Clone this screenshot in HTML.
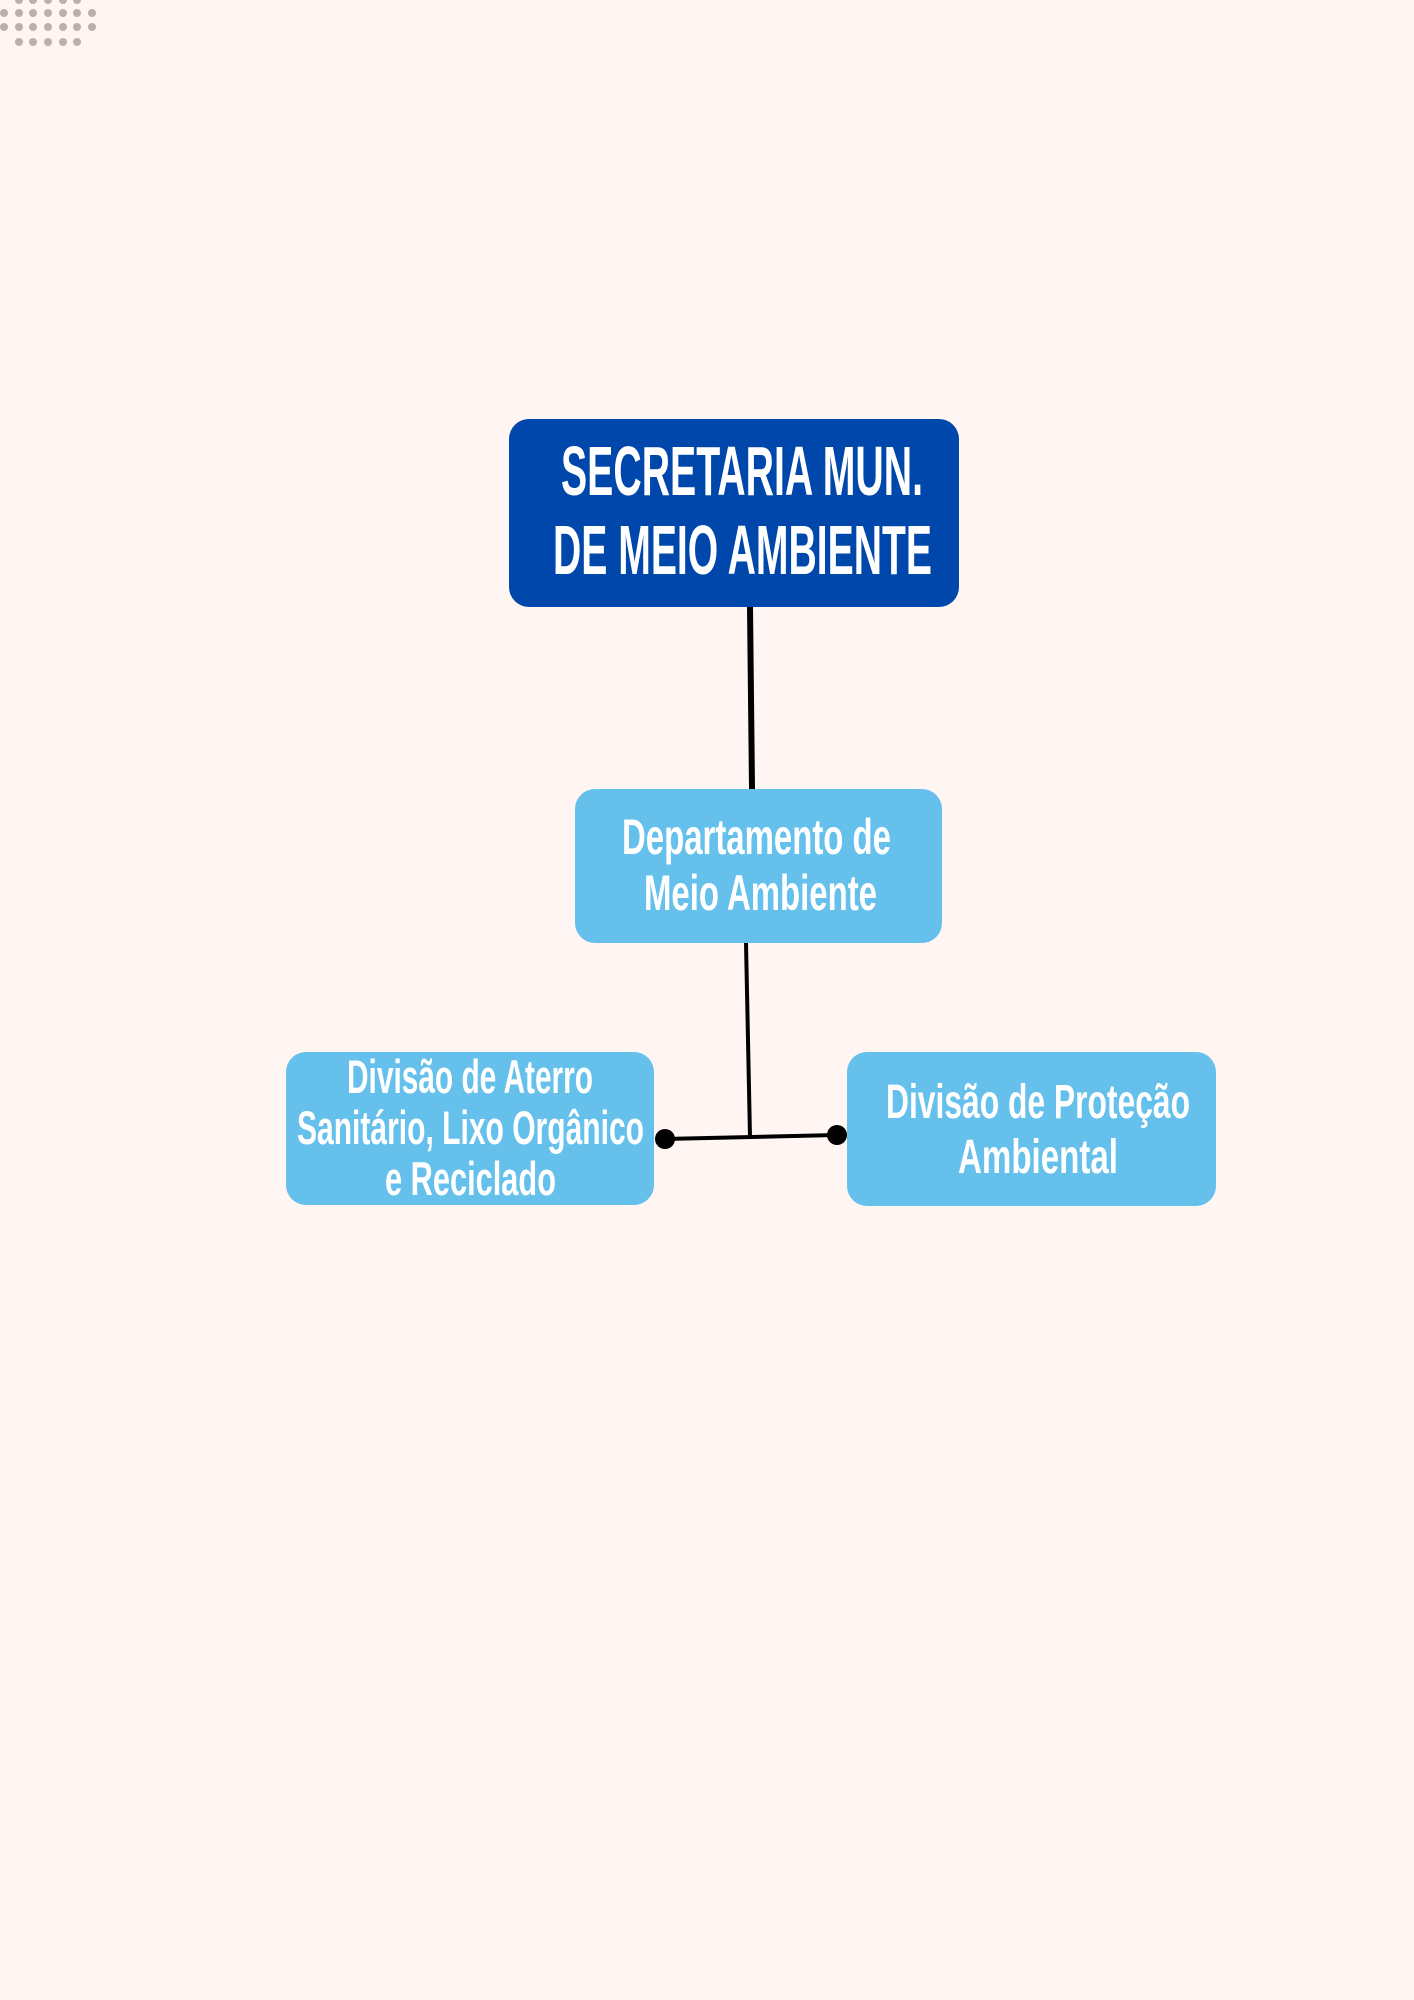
<!DOCTYPE html>
<html><head><meta charset="utf-8"><style>
html,body{margin:0;padding:0;background:#fff5f3;}
svg{display:block}
text{font-family:"Liberation Sans Narrow","Liberation Sans",sans-serif;font-weight:bold;fill:#fff;}
</style></head><body>
<svg width="1414" height="2000" viewBox="0 0 1414 2000">
<rect width="1414" height="2000" fill="#fff5f3"/>
<g fill="#bcb0ae">
<circle cx="19" cy="0" r="4"/><circle cx="33" cy="0" r="4"/><circle cx="48" cy="0" r="4"/><circle cx="63" cy="0" r="4"/><circle cx="77" cy="0" r="4"/>
<circle cx="4" cy="13" r="4"/><circle cx="19" cy="13" r="4"/><circle cx="33" cy="13" r="4"/><circle cx="48" cy="13" r="4"/><circle cx="63" cy="13" r="4"/><circle cx="77" cy="13" r="4"/><circle cx="92" cy="13" r="4"/>
<circle cx="4" cy="27" r="4"/><circle cx="19" cy="27" r="4"/><circle cx="33" cy="27" r="4"/><circle cx="48" cy="27" r="4"/><circle cx="63" cy="27" r="4"/><circle cx="77" cy="27" r="4"/><circle cx="92" cy="27" r="4"/>
<circle cx="19" cy="42" r="4"/><circle cx="33" cy="42" r="4"/><circle cx="48" cy="42" r="4"/><circle cx="63" cy="42" r="4"/><circle cx="77" cy="42" r="4"/>
</g>
<g stroke="#000" stroke-linecap="round" fill="none">
<line x1="750" y1="607" x2="752" y2="789" stroke-width="6"/>
<line x1="746" y1="943" x2="750" y2="1137" stroke-width="4"/>
<line x1="664" y1="1139" x2="836" y2="1135" stroke-width="4"/>
</g>
<circle cx="665" cy="1139" r="10" fill="#000"/>
<circle cx="837" cy="1135" r="10" fill="#000"/>
<rect x="509" y="419" width="450" height="188" rx="20" fill="#0047ab"/>
<rect x="575" y="789" width="367" height="154" rx="20" fill="#66c0ec"/>
<rect x="286" y="1052" width="368" height="153" rx="20" fill="#66c0ec"/>
<rect x="847" y="1052" width="369" height="154" rx="20" fill="#66c0ec"/>
<text x="561" y="495" font-size="70" textLength="362" lengthAdjust="spacingAndGlyphs">SECRETARIA MUN.</text>
<text x="553" y="574" font-size="70" textLength="379" lengthAdjust="spacingAndGlyphs">DE MEIO AMBIENTE</text>
<text x="622" y="854" font-size="50" textLength="269" lengthAdjust="spacingAndGlyphs">Departamento de</text>
<text x="644" y="910" font-size="50" textLength="233" lengthAdjust="spacingAndGlyphs">Meio Ambiente</text>
<text x="347" y="1093" font-size="47" textLength="246" lengthAdjust="spacingAndGlyphs">Divisão de Aterro</text>
<text x="297" y="1144" font-size="47" textLength="347" lengthAdjust="spacingAndGlyphs">Sanitário, Lixo Orgânico</text>
<text x="385" y="1195" font-size="47" textLength="171" lengthAdjust="spacingAndGlyphs">e Reciclado</text>
<text x="886" y="1118" font-size="48" textLength="304" lengthAdjust="spacingAndGlyphs">Divisão de Proteção</text>
<text x="958" y="1173" font-size="48" textLength="160" lengthAdjust="spacingAndGlyphs">Ambiental</text>
</svg>
</body></html>
